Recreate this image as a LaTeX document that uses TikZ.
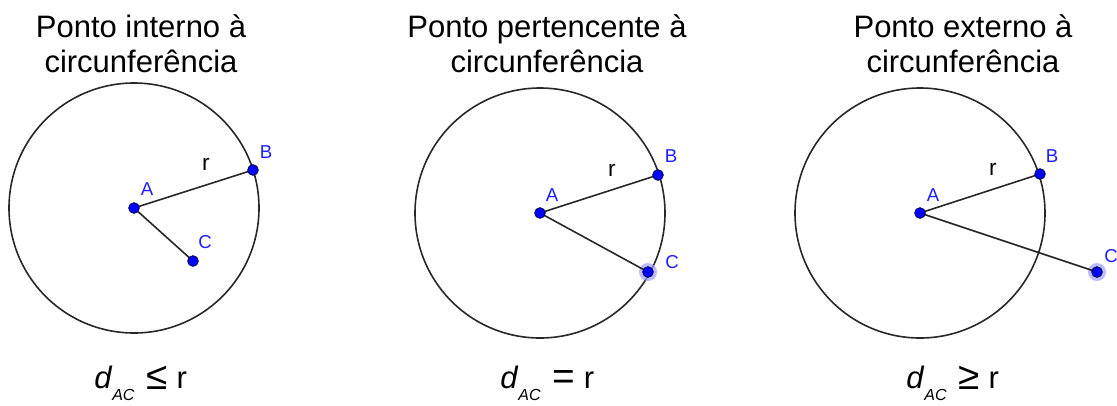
\documentclass[tikz,border=0pt]{standalone}
\usepackage{fontspec}
\setmainfont{Liberation Sans}
\usetikzlibrary{positioning,backgrounds}

\definecolor{ptblue}{RGB}{0,0,255}
\definecolor{ptedge}{RGB}{0,0,80}
\definecolor{lblblue}{RGB}{30,30,255}
\definecolor{linegray}{RGB}{40,40,40}
\definecolor{halo}{RGB}{160,160,255}

\newcommand{\dac}{\textit{d}\raisebox{-9.5pt}{\fontsize{12}{12}\selectfont\textit{AC}}\hspace{9pt}}
\newcommand{\relsym}[1]{\raisebox{-1pt}{\scalebox{1.25}{#1}}}

\begin{document}
\begin{tikzpicture}[
  x=0.75pt, y=-0.75pt,
  every node/.style={inner sep=0pt},
  title/.style={anchor=north, align=center, font=\fontsize{23.25}{26.25}\selectfont},
  pt/.style={circle, fill=ptblue, draw=ptedge, line width=0.6pt, minimum size=8pt},
  ptlabel/.style={text=lblblue, font=\fontsize{14}{15}\selectfont},
  rlabel/.style={font=\fontsize{17}{17}\selectfont},
  seg/.style={draw=linegray, line width=1.2pt},
  circ/.style={draw=linegray, line width=1.2pt},
  glow/.style={fill=halo, opacity=0.7},
  formula/.style={anchor=base west, font=\fontsize{23.25}{26}\selectfont},
]
\useasboundingbox (0,0) rectangle (1117,405);

% titles
\node[title] (t1) at (141,14) {Ponto interno à\\circunferência};
\node[title] (t2) at (547,14) {Ponto pertencente à\\circunferência};
\node[title] (t3) at (963,14) {Ponto externo à\\circunferência};

% points, first circle
\node[pt] (A1) at (134,208) {};
\node[pt] (B1) at (253,170) {};
\node[pt] (C1) at (193,261) {};
% points, second circle
\node[pt] (A2) at (540,213) {};
\node[pt] (B2) at (658,175) {};
\node[pt] (C2) at (648,272) {};
% points, third circle
\node[pt] (A3) at (920,213) {};
\node[pt] (B3) at (1040,174) {};
\node[pt] (C3) at (1097,272) {};

% circles, segments and glow behind the points
\begin{scope}[on background layer]
  \draw[circ] (A1.center) circle[radius=125];
  \draw[circ] (A2.center) circle[radius=125];
  \draw[circ] (A3.center) circle[radius=125];
  \fill[glow] (C2.center) circle[radius=9];
  \fill[glow] (C3.center) circle[radius=9];
  \draw[seg] (A1.center) -- (B1.center);
  \draw[seg] (A1.center) -- (C1.center);
  \draw[seg] (A2.center) -- (B2.center);
  \draw[seg] (A2.center) -- (C2.center);
  \draw[seg] (A3.center) -- (B3.center);
  \draw[seg] (A3.center) -- (C3.center);
\end{scope}

% point labels
\node[ptlabel] (lA1) at (147,189) {A};
\node[ptlabel] (lB1) at (266,152) {B};
\node[ptlabel] (lC1) at (205,242) {C};
\node[ptlabel] (lA2) at (552,195) {A};
\node[ptlabel] (lB2) at (671,156) {B};
\node[ptlabel] (lC2) at (672,262) {C};
\node[ptlabel] (lA3) at (933,195) {A};
\node[ptlabel] (lB3) at (1052,156) {B};
\node[ptlabel] (lC3) at (1111,256) {C};

% radius labels
\node[rlabel] (r1) at (206,164) {r};
\node[rlabel] (r2) at (612,170) {r};
\node[rlabel] (r3) at (993,169) {r};

% relations
\node[formula] (f1) at (94,388) {\dac\relsym{≤} r};
\node[formula] (f2) at (500,388) {\dac\relsym{=} r};
\node[formula] (f3) at (906,388) {\dac\relsym{≥} r};

\end{tikzpicture}
\end{document}
